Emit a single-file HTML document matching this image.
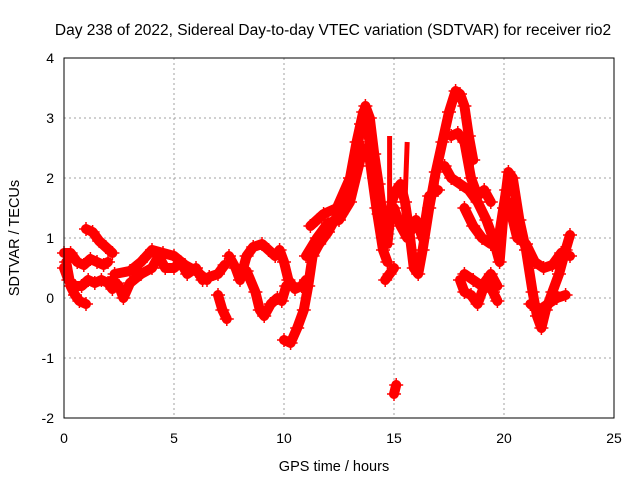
<!DOCTYPE html>
<html><head><meta charset="utf-8"><style>
body{margin:0;background:#fff;}
svg{display:block;font-family:"Liberation Sans",sans-serif;}
</style></head><body>
<svg id="chart" width="640" height="480">
<text x="333" y="35" text-anchor="middle" font-size="15.5">Day 238 of 2022, Sidereal Day-to-day VTEC variation (SDTVAR) for receiver rio2</text>
<text x="334" y="471" text-anchor="middle" font-size="14.5">GPS time / hours</text>
<text transform="translate(19,238) rotate(-90)" text-anchor="middle" font-size="14.5">SDTVAR / TECUs</text>
<g id="grid"></g><g id="ticks"></g><g id="series"></g>
<rect x="64" y="58" width="550" height="360" fill="none" stroke="#000" stroke-width="1"/>
</svg>
<script>
const xTicks=[0,5,10,15,20,25];
const yTicks=[-2,-1,0,1,2,3,4];
const trackA=[[0,0.75],[0.3,0.75],[0.6,0.6],[0.9,0.55],[1.2,0.65],[1.5,0.6],[1.8,0.55],[2.0,0.6]];
const trackB=[[0,0.5],[0.2,0.3],[0.5,0.2],[0.8,0.2],[1.1,0.3],[1.4,0.25],[1.7,0.3],[2.0,0.25],[2.2,0.15]];
const trackC=[[0.1,0.6],[0.3,0.2],[0.5,0.05],[0.7,-0.05],[1.0,-0.1]];
const trackD=[[1.0,1.15],[1.3,1.1],[1.6,0.95],[1.9,0.85],[2.2,0.75]];
const trackE=[[2.2,0.3],[2.5,0.2],[2.7,0.0],[3.0,0.25],[3.5,0.4],[4.0,0.5],[4.3,0.7],[4.6,0.5],[5.0,0.5],[5.3,0.6],[5.6,0.4],[6.0,0.5],[6.3,0.3],[6.6,0.35],[7.0,0.4],[7.3,0.55]];
const trackE2=[[2.3,0.4],[3.0,0.45],[3.5,0.6],[4.0,0.8],[4.5,0.75],[5.0,0.7],[5.5,0.55],[6.0,0.45],[6.5,0.3]];
const trackF=[[7.0,0.05],[7.2,-0.2],[7.4,-0.35]];
const trackG=[[7.5,0.7],[7.8,0.5],[8.0,0.3],[8.3,0.7],[8.6,0.85],[9.0,0.9],[9.3,0.8],[9.6,0.7],[9.8,0.8],[10.0,0.6],[10.2,0.3],[10.5,0.15],[10.8,0.2],[11.0,0.3]];
const trackH=[[8.3,0.45],[8.7,0.1],[8.9,-0.2],[9.1,-0.3],[9.4,-0.1],[9.7,0.0],[9.9,-0.05],[10.1,0.2],[10.3,0.25]];
const trackJ=[[10.0,-0.7],[10.3,-0.75],[10.6,-0.5],[10.9,-0.2],[11.1,0.2],[11.3,0.7],[11.6,0.9],[12.0,1.1],[12.3,1.3],[12.6,1.4],[12.9,1.6],[13.1,2.0],[13.3,2.4],[13.5,2.9],[13.7,3.2],[13.9,3.0],[14.1,2.4],[14.3,1.9],[14.5,1.3],[14.7,0.9],[14.9,1.6],[15.1,1.8],[15.3,1.9],[15.5,1.6],[15.7,1.1],[15.9,0.5],[16.1,0.4],[16.3,0.8],[16.6,1.5],[16.9,2.1],[17.2,2.6],[17.5,3.1],[17.8,3.45],[18.0,3.4],[18.2,3.2],[18.4,2.7],[18.6,2.3]];
const trackK=[[11.0,0.7],[11.5,1.0],[12.0,1.25],[12.5,1.3],[13.0,1.6],[13.4,2.2],[13.6,2.5],[13.9,2.3],[14.2,1.5],[14.5,0.8],[14.7,0.6]];
const trackU=[[11.2,1.2],[11.8,1.4],[12.4,1.5],[13.0,2.0],[13.3,2.6],[13.6,3.1],[13.9,2.6],[14.1,2.0],[14.3,1.4]];
const trackL=[[17.3,2.2],[17.6,2.0],[18.0,1.9],[18.4,1.8],[18.8,1.6],[19.2,1.3],[19.5,1.0],[19.8,0.6],[20.0,1.5],[20.2,2.1],[20.4,2.0],[20.7,1.3],[21.0,0.8],[21.3,0.1],[21.5,-0.3],[21.7,-0.5],[21.9,-0.2],[22.2,0.1],[22.5,0.4],[22.8,0.8],[23.0,1.05]];
const trackM=[[17.6,2.7],[17.9,2.75],[18.2,2.6],[18.5,2.0],[18.8,1.7],[19.1,1.8],[19.4,1.6]];
const trackN=[[18.0,0.3],[18.2,0.1],[18.5,0.05],[18.8,-0.1],[19.2,0.3],[19.5,0.1],[19.7,-0.05]];
const trackN2=[[18.2,0.4],[18.6,0.3],[19.0,0.2],[19.4,0.4],[19.7,0.2]];
const trackO=[[15.0,1.5],[15.3,1.2],[15.6,1.0],[16.0,1.3],[16.3,1.0],[16.6,1.7],[17.0,1.8]];
const trackV=[[18.2,1.5],[18.6,1.2],[19.0,1.0],[19.4,0.9],[19.8,1.1],[20.1,1.8]];
const trackP=[[20.2,1.6],[20.6,1.0],[21.0,0.9],[21.4,0.6],[21.8,0.5],[22.2,0.55],[22.6,0.75],[23.0,0.7]];
const trackQ=[[21.2,-0.1],[21.6,-0.2],[22.0,-0.1],[22.4,0.0],[22.8,0.05]];
const trackR=[[14.6,0.3],[14.8,0.4],[15.0,0.5]];
const trackS=[[15.0,-1.6],[15.1,-1.45]];
const trackT=[[14.8,2.7],[14.8,1.6]];
const trackT2=[[15.6,2.6],[15.5,1.6]];
const tracks=[trackA,trackB,trackC,trackD,trackE,trackE2,trackF,trackG,trackH,trackJ,trackK,trackU,trackL,trackM,trackN,trackN2,trackO,trackV,trackP,trackQ,trackR,trackS];
const spikes=[trackT,trackT2];
const NS="http://www.w3.org/2000/svg";
const X=v=>64+v/25*550, Y=v=>298-v*60;
const grid=document.getElementById('grid'),tk=document.getElementById('ticks'),ser=document.getElementById('series');
function mk(tag,at,parent){const e=document.createElementNS(NS,tag);for(const k in at)e.setAttribute(k,at[k]);parent.appendChild(e);return e;}
xTicks.forEach(t=>{
 if(t>0&&t<25){const l=mk('line',{x1:X(t),x2:X(t),y1:58,y2:418,stroke:'#a0a0a0','stroke-dasharray':'2,3'},grid);
 
 }
 const tx=mk('text',{x:X(t),y:443,'text-anchor':'middle','font-size':14},tk);tx.textContent=t;
 
 
});
yTicks.forEach(t=>{
 if(t>-2&&t<4){const l=mk('line',{x1:64,x2:614,y1:Y(t),y2:Y(t),stroke:'#a0a0a0','stroke-dasharray':'2,3'},grid);
 
 }
 const tx=mk('text',{x:54,y:Y(t)+5,'text-anchor':'end','font-size':14},tk);tx.textContent=t;
 
 
});
tracks.forEach(tr=>{
 const pl=mk('polyline',{points:tr.map(p=>X(p[0])+','+Y(p[1])).join(' '),fill:'none',stroke:'#f00','stroke-width':10,'stroke-linejoin':'round','stroke-linecap':'round'},ser);
 
 
});
spikes.forEach(tr=>{
 const pl=mk('polyline',{points:tr.map(p=>X(p[0])+','+Y(p[1])).join(' '),fill:'none',stroke:'#f00','stroke-width':5},ser);
 
 
});
tracks.forEach(tr=>tr.forEach(p=>{
 const x=X(p[0]),y=Y(p[1]);
 const m=mk('path',{d:`M${x-7},${y}H${x+7}M${x},${y-7}V${y+7}`,stroke:'#f00','stroke-width':1.5},ser);
 
 
}));
</script>
</body></html>
